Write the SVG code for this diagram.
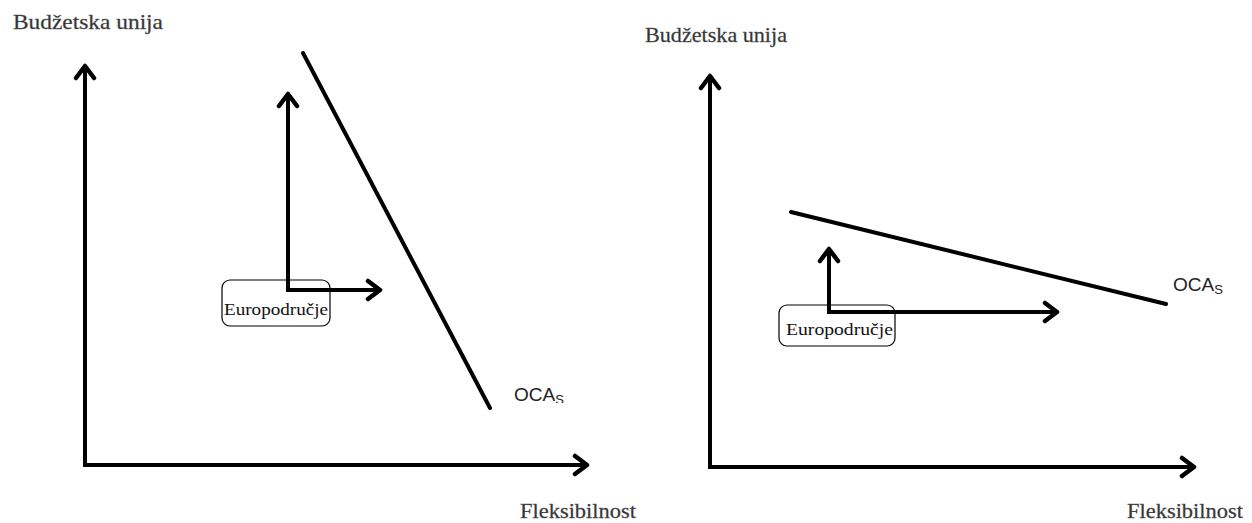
<svg xmlns="http://www.w3.org/2000/svg" width="1252" height="523" viewBox="0 0 1252 523">
<style>
.ax{stroke:#000;stroke-width:4;fill:none}
.ln{stroke:#000;stroke-width:4;fill:none;stroke-linecap:round}
.lbl{font-family:"Liberation Serif",serif;font-size:21px;fill:#333;stroke:#555;stroke-width:0.3}
.eu{font-family:"Liberation Serif",serif;font-size:17px;fill:#111}
.oca{font-family:"Liberation Sans",sans-serif;font-size:19px;fill:#222}
.box{fill:none;stroke:#000;stroke-width:1.2}
</style>
<defs>
<marker id="ah" viewBox="-16 -12 20 24" refX="0" refY="0" markerWidth="20" markerHeight="24" markerUnits="userSpaceOnUse" orient="auto">
<path d="M-12,-9 L0,0 L-12,9" fill="none" stroke="#000" stroke-width="4.5" stroke-linecap="round" stroke-linejoin="round"/>
</marker>
<clipPath id="clipOca"><rect x="500" y="375" width="100" height="28"/></clipPath>
</defs>
<g id="connectors">
<line class="ax" x1="85" y1="465" x2="587" y2="465" marker-end="url(#ah)"/>
<line class="ax" x1="85" y1="467" x2="85" y2="66" marker-end="url(#ah)"/>
<line class="ax" x1="288" y1="290" x2="288" y2="94" marker-end="url(#ah)"/>
<line class="ax" x1="286" y1="290" x2="380" y2="290" marker-end="url(#ah)"/>
<line class="ln" x1="303" y1="53" x2="490" y2="408"/>
<line class="ax" x1="710" y1="467" x2="1194" y2="467" marker-end="url(#ah)"/>
<line class="ax" x1="710" y1="469" x2="710" y2="76" marker-end="url(#ah)"/>
<line class="ax" x1="829" y1="312" x2="829" y2="249" marker-end="url(#ah)"/>
<line class="ax" x1="827" y1="312" x2="1057" y2="312" marker-end="url(#ah)"/>
<line class="ln" x1="791" y1="212" x2="1166" y2="304"/>
</g>
<g id="node-budzetska-1"><text class="lbl" x="13" y="29" textLength="150" lengthAdjust="spacingAndGlyphs">Budžetska unija</text></g>
<g id="node-euro-1">
<rect class="box" x="222" y="280" width="108" height="46" rx="8"/>
<text class="eu" x="224" y="315" textLength="104" lengthAdjust="spacingAndGlyphs">Europodručje</text>
</g>
<g id="node-oca-1" clip-path="url(#clipOca)"><text class="oca" x="514" y="401">OCA<tspan font-size="13" dy="3">S</tspan></text></g>
<g id="node-fleks-1"><text class="lbl" x="520" y="518" textLength="116" lengthAdjust="spacingAndGlyphs">Fleksibilnost</text></g>
<g id="node-budzetska-2"><text class="lbl" x="645" y="42" textLength="142" lengthAdjust="spacingAndGlyphs">Budžetska unija</text></g>
<g id="node-euro-2">
<rect class="box" x="779" y="305" width="116" height="41" rx="8"/>
<text class="eu" x="786" y="335" textLength="107" lengthAdjust="spacingAndGlyphs">Europodručje</text>
</g>
<g id="node-oca-2"><text class="oca" x="1173" y="291">OCA<tspan font-size="13" dy="3">S</tspan></text></g>
<g id="node-fleks-2"><text class="lbl" x="1127" y="518" textLength="116" lengthAdjust="spacingAndGlyphs">Fleksibilnost</text></g>
</svg>
